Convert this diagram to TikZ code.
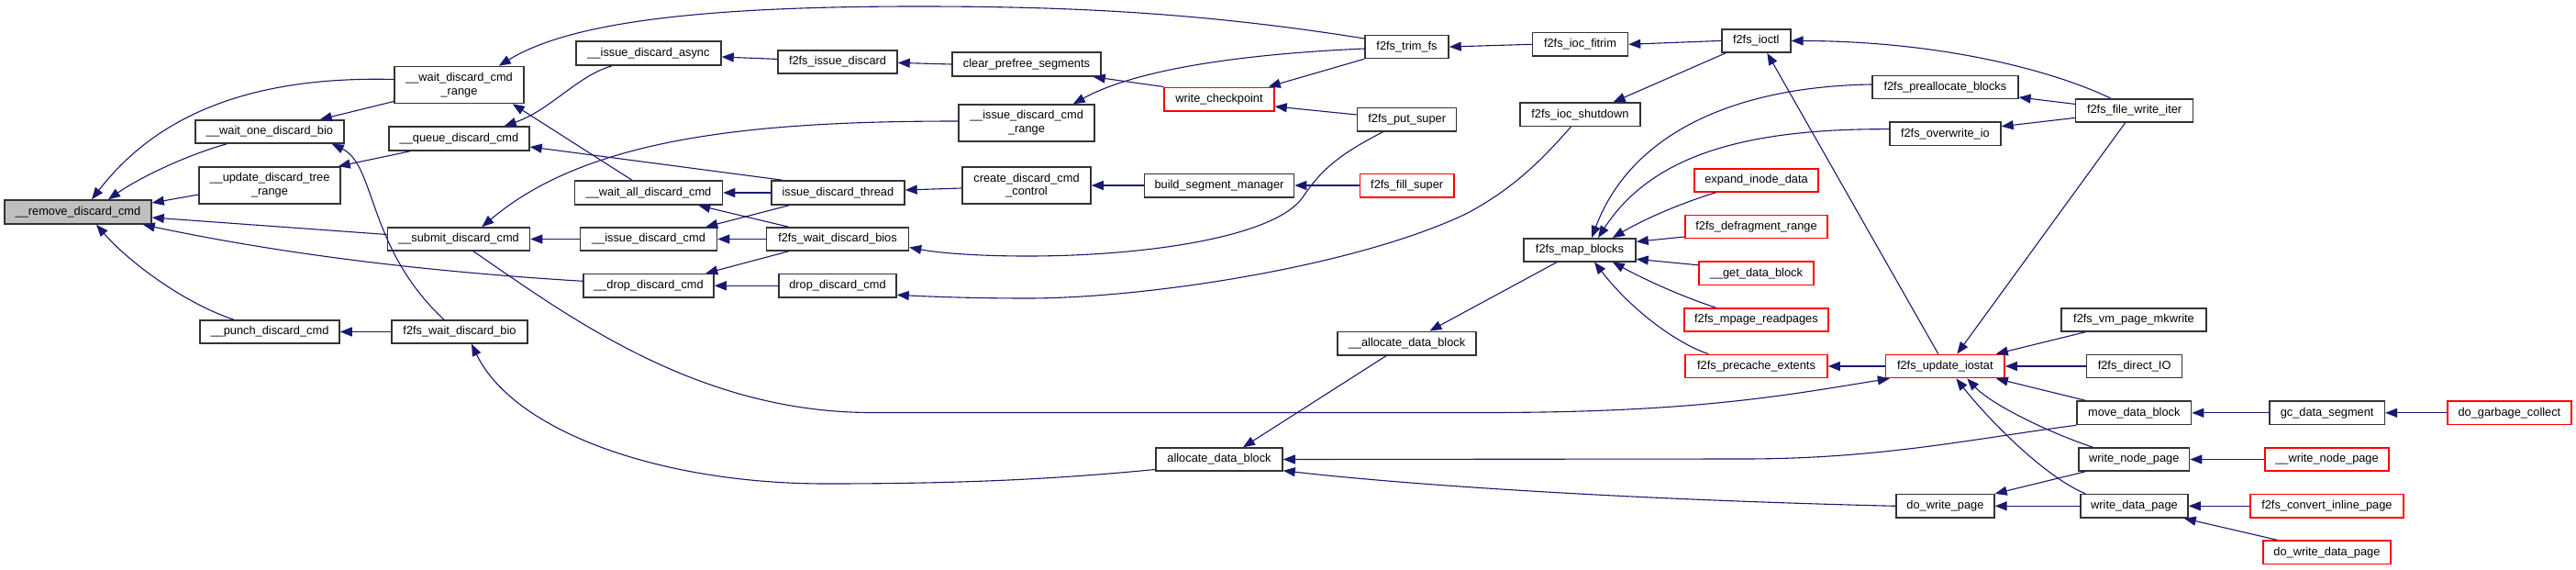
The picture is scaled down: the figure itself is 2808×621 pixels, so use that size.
\documentclass[tikz,border=0pt]{standalone}
\usepackage{fontspec}
\setmainfont{Liberation Sans}
\usetikzlibrary{arrows.meta,calc}
\definecolor{edgec}{RGB}{25,25,112}
\definecolor{rootfill}{RGB}{191,191,191}
\begin{document}
\begin{tikzpicture}[x=1pt,y=-1pt,
 box/.style={draw=black!80, line width=1.5pt, fill=white, inner sep=0pt, align=center, font=\fontsize{12.8}{14.7}\selectfont},
 redbox/.style={box, draw=red},
 rootbox/.style={box, fill=rootfill},
 wh/.style 2 args={minimum width=#1, minimum height=#2},
 edge/.style={draw=edgec, line width=1.1pt, -{Triangle[length=13pt,width=10pt]}},
]
\fill[white] (0,0) rectangle (2808,621);
\useasboundingbox (0,0) rectangle (2808,621);

\node[rootbox, wh={160pt}{26pt}] (remove) at (85,231) {\_\_remove\_discard\_cmd};
\node[box, wh={162pt}{25pt}] (waitone) at (294,143.5) {\_\_wait\_one\_discard\_bio};
\node[box, wh={154pt}{40pt}] (update) at (294,202) {\_\_update\_discard\_tree\\\_range};
\node[box, wh={152pt}{25pt}] (punch) at (294,361.5) {\_\_punch\_discard\_cmd};
\node[box, wh={141pt}{40pt}] (waitrange) at (500.5,92.5) {\_\_wait\_discard\_cmd\\\_range};
\node[box, wh={153pt}{26pt}] (queue) at (500.5,151) {\_\_queue\_discard\_cmd};
\node[box, wh={155pt}{25pt}] (submit) at (500,260.5) {\_\_submit\_discard\_cmd};
\node[box, wh={148pt}{25pt}] (wdbio) at (501,361.5) {f2fs\_wait\_discard\_bio};
\node[box, wh={158pt}{26pt}] (async) at (707,58) {\_\_issue\_discard\_async};
\node[box, wh={130pt}{25pt}] (issuedisc) at (913,67.4) {f2fs\_issue\_discard};
\node[box, wh={162pt}{26pt}] (clearpre) at (1119,70) {clear\_prefree\_segments};
\node[box, wh={148pt}{40pt}] (icmdrange) at (1119,134) {\_\_issue\_discard\_cmd\\\_range};
\node[box, wh={140pt}{40pt}] (createctl) at (1119,202) {create\_discard\_cmd\\\_control};
\node[box, wh={161pt}{26pt}] (waitall) at (707,210) {\_\_wait\_all\_discard\_cmd};
\node[box, wh={145pt}{26pt}] (thread) at (913.4,210) {issue\_discard\_thread};
\node[box, wh={149pt}{25pt}] (issuecmd) at (707,260.5) {\_\_issue\_discard\_cmd};
\node[box, wh={155pt}{25pt}] (bios) at (913,260.5) {f2fs\_wait\_discard\_bios};
\node[box, wh={142pt}{25.5pt}] (dropu) at (707,311.3) {\_\_drop\_discard\_cmd};
\node[box, wh={128pt}{25.5pt}] (drop) at (913,311.3) {drop\_discard\_cmd};
\node[box, wh={91pt}{25pt}] (trimfs) at (1533.5,51) {f2fs\_trim\_fs};
\node[redbox, wh={120pt}{25.5pt}] (checkpoint) at (1329,108) {write\_checkpoint};
\node[box, wh={108pt}{25.5pt}] (putsuper) at (1533.7,130) {f2fs\_put\_super};
\node[box, wh={163pt}{25.5pt}] (buildsm) at (1329,202) {build\_segment\_manager};
\node[redbox, wh={102.5pt}{25.5pt}] (fillsuper) at (1533.7,202) {f2fs\_fill\_super};
\node[box, wh={151pt}{25.5pt}] (allocu) at (1533.5,374) {\_\_allocate\_data\_block};
\node[box, wh={138pt}{25pt}] (alloc) at (1329,500.5) {allocate\_data\_block};
\node[box, wh={104pt}{25.5pt}] (fitrim) at (1722.5,48.3) {f2fs\_ioc\_fitrim};
\node[box, wh={75pt}{25.3pt}] (ioctl) at (1914.3,44.4) {f2fs\_ioctl};
\node[box, wh={131pt}{25.4pt}] (shutdown) at (1722.4,124.7) {f2fs\_ioc\_shutdown};
\node[box, wh={159pt}{25.3pt}] (prealloc) at (2120.4,95) {f2fs\_preallocate\_blocks};
\node[box, wh={121pt}{25.4pt}] (overwrite) at (2120.4,145.7) {f2fs\_overwrite\_io};
\node[redbox, wh={135pt}{25.3pt}] (expand) at (1914.5,196.4) {expand\_inode\_data};
\node[redbox, wh={155pt}{25.4pt}] (defrag) at (1914.5,247) {f2fs\_defragment\_range};
\node[box, wh={122pt}{25pt}] (mapblocks) at (1722,272.3) {f2fs\_map\_blocks};
\node[redbox, wh={125pt}{25.5pt}] (getdata) at (1914.4,297.8) {\_\_get\_data\_block};
\node[redbox, wh={157pt}{25.2pt}] (mpage) at (1914.4,348.4) {f2fs\_mpage\_readpages};
\node[redbox, wh={155pt}{25.3pt}] (precache) at (1914.5,399) {f2fs\_precache\_extents};
\node[redbox, wh={129.5pt}{25.3pt}] (iostat) at (2120.3,399) {f2fs\_update\_iostat};
\node[box, wh={107pt}{25.4pt}] (dowritepage) at (2120.4,551.3) {do\_write\_page};
\node[box, wh={128pt}{25.3pt}] (writeiter) at (2326.6,120.4) {f2fs\_file\_write\_iter};
\node[box, wh={158pt}{25.2pt}] (mkwrite) at (2326,348.4) {f2fs\_vm\_page\_mkwrite};
\node[box, wh={104pt}{25.3pt}] (directio) at (2326.6,399) {f2fs\_direct\_IO};
\node[box, wh={124.5pt}{25.5pt}] (movedb) at (2326.3,449.8) {move\_data\_block};
\node[box, wh={125.6pt}{25.5pt}] (gcdata) at (2536.6,449.8) {gc\_data\_segment};
\node[redbox, wh={135pt}{25.5pt}] (dogc) at (2735.4,449.8) {do\_garbage\_collect};
\node[box, wh={120.5pt}{25pt}] (writenode) at (2326.3,500.5) {write\_node\_page};
\node[redbox, wh={135pt}{25pt}] (wnodeu) at (2536.5,500.5) {\_\_write\_node\_page};
\node[box, wh={117pt}{25.4pt}] (writedata) at (2326.5,551.3) {write\_data\_page};
\node[redbox, wh={167pt}{25.4pt}] (convinline) at (2536.4,551.3) {f2fs\_convert\_inline\_page};
\node[redbox, wh={139pt}{25.6pt}] (dowritedata) at (2536.4,601.8) {do\_write\_data\_page};

% edges into __remove_discard_cmd
\draw[edge] ($(waitrange.west)+(0,-6)$) .. controls (250,82) and (160,140) .. ($(remove.north)+(15,0)$);
\draw[edge] ($(waitone.south west)+(35,0)$) .. controls (200,170) and (150,195) .. ($(remove.north)+(33,0)$);
\draw[edge] ($(update.west)+(0,10)$) -- ($(remove.east)+(0,-10)$);
\draw[edge] ($(submit.west)+(0,-5)$) -- ($(remove.east)+(0,6)$);
\draw[edge] ($(dropu.west)+(0,-5)$) .. controls (450,295) and (300,275) .. ($(remove.south east)+(-10,0)$);
\draw[edge] ($(punch.north)+(-39,0)$) .. controls (200,330) and (140,285) .. ($(remove.south)+(20,0)$);
% second column
\draw[edge] ($(waitrange.west)+(0,18)$) -- ($(waitone.north east)+(-27,0)$);
\draw[edge] ($(wdbio.north)+(-17,0)$) .. controls (400,270) and (410,180) .. ($(waitone.south east)+(-14,0)$);
\draw[edge] ($(queue.south west)+(24,0)$) -- ($(update.north east)+(-3,0)$);
\draw[edge] (wdbio.west) -- (punch.east);
% third column
\draw[edge] ($(trimfs.west)+(0,-9)$) .. controls (1300,12) and (1150,7) .. (1000,7) .. controls (760,7) and (620,25) .. ($(waitrange.north east)+(-28,0)$);
\draw[edge] ($(waitall.north)+(-18,0)$) -- ($(waitrange.south east)+(-13,0)$);
\draw[edge] ($(async.south west)+(40,0)$) .. controls (630,82) and (600,120) .. ($(queue.north east)+(-28,0)$);
\draw[edge] ($(thread.north west)+(13,0)$) -- ($(queue.east)+(0,9)$);
\draw[edge] (issuecmd.west) -- (submit.east);
\draw[edge] ($(icmdrange.west)+(0,-2)$) .. controls (820,132) and (640,150) .. ($(submit.north east)+(-53,0)$);
\draw[edge] ($(thread.south west)+(20,0)$) -- ($(issuecmd.north east)+(-13,0)$);
\draw[edge] (bios.west) -- (issuecmd.east);
\draw[edge] (thread.west) -- (waitall.east);
\draw[edge] ($(bios.north west)+(25,0)$) -- ($(waitall.south east)+(-27,0)$);
\draw[edge] (drop.west) -- (dropu.east);
\draw[edge] ($(bios.south west)+(25,0)$) -- ($(dropu.north east)+(-9.5,0)$);
\draw[edge] ($(alloc.west)+(0,11)$) .. controls (1150,522) and (1050,527) .. (900,527) .. controls (720,527) and (560,470) .. ($(wdbio.south)+(13,0)$);
\draw[edge] ($(submit.south)+(16,0)$) .. controls (620,345) and (760,449.5) .. (950,449.5) -- (1620,449.5) .. controls (1850,449.5) and (1950,430) .. ($(iostat.south west)+(5,0)$);
\draw[edge] ($(putsuper.south west)+(29,0)$) .. controls (1460,168) and (1440,185) .. (1420,215) .. controls (1390,258) and (1250,279) .. (1120,279) .. controls (1060,279) and (1020,275) .. ($(bios.east)+(0,9)$);
% fourth/fifth column
\draw[edge] ($(issuedisc.west)+(0,-3)$) -- ($(async.east)+(0,4)$);
\draw[edge] (clearpre.west) -- ($(issuedisc.east)+(0,1)$);
\draw[edge] (checkpoint.north west) -- ($(clearpre.south east)+(-9,0)$);
\draw[edge] ($(trimfs.west)+(0,2)$) .. controls (1330,60) and (1230,80) .. ($(icmdrange.north east)+(-24,0)$);
\draw[edge] ($(createctl.west)+(0,3)$) -- ($(thread.east)+(0,-3)$);
\draw[edge] (buildsm.west) -- (createctl.east);
\draw[edge] (fillsuper.west) -- (buildsm.east);
\draw[edge] (trimfs.south west) -- ($(checkpoint.north east)+(-7,0)$);
\draw[edge] ($(putsuper.west)+(0,-5)$) -- ($(checkpoint.east)+(0,8)$);
\draw[edge] (fitrim.west) -- (trimfs.east);
\draw[edge] (ioctl.west) -- (fitrim.east);
\draw[edge] ($(ioctl.south west)+(5,0)$) -- ($(shutdown.north east)+(-30,0)$);
\draw[edge] ($(shutdown.south)+(-10,0)$) .. controls (1680,175) and (1650,205) .. (1600,232) .. controls (1480,290) and (1250,325) .. (1120,325) .. controls (1060,325) and (1010,323) .. ($(drop.east)+(0,10)$);
\draw[edge] ($(writeiter.north)+(-26,0)$) .. controls (2240,78) and (2120,45) .. (ioctl.east);
\draw[edge] ($(iostat.north west)+(58,0)$) -- ($(ioctl.south)+(12,0)$);
\draw[edge] ($(writeiter.west)+(0,-7)$) -- ($(prealloc.east)+(0,11)$);
\draw[edge] ($(writeiter.west)+(0,8)$) -- ($(overwrite.east)+(0,-8)$);
\draw[edge] ($(writeiter.south)+(-10,0)$) -- ($(iostat.north)+(13,0)$);
\draw[edge] ($(prealloc.west)+(0,-3)$) .. controls (1900,94) and (1780,140) .. ($(mapblocks.north)+(13,0)$);
\draw[edge] ($(overwrite.west)+(0,-5)$) .. controls (1900,140) and (1800,170) .. ($(mapblocks.north)+(20,0)$);
\draw[edge] ($(expand.south west)+(24,0)$) .. controls (1830,222) and (1790,240) .. ($(mapblocks.north east)+(-26,0)$);
\draw[edge] ($(defrag.west)+(0,11)$) -- ($(mapblocks.east)+(0,-9)$);
\draw[edge] ($(getdata.west)+(0,-9)$) -- ($(mapblocks.east)+(0,10)$);
\draw[edge] ($(mpage.north west)+(35,0)$) .. controls (1830,322) and (1790,303) .. ($(mapblocks.south east)+(-26,0)$);
\draw[edge] ($(precache.north west)+(26,0)$) .. controls (1830,375) and (1780,340) .. ($(mapblocks.south)+(16,0)$);
\draw[edge] ($(mapblocks.south west)+(37,0)$) -- ($(allocu.north)+(25,0)$);
\draw[edge] ($(allocu.south west)+(54,0)$) -- ($(alloc.north)+(26,0)$);
\draw[edge] (movedb.south west) .. controls (2150,478) and (2050,500) .. (1900,500) -- (alloc.east);
\draw[edge] (dowritepage.west) .. controls (1800,545) and (1550,530) .. ($(alloc.south east)+(0,-1)$);
\draw[edge] (iostat.west) -- (precache.east);
\draw[edge] ($(mkwrite.south west)+(27,0)$) -- ($(iostat.north east)+(-10,0)$);
\draw[edge] (directio.west) -- (iostat.east);
\draw[edge] ($(movedb.north west)+(10,0)$) -- ($(iostat.south east)+(-10,0)$);
\draw[edge] ($(writenode.north)+(-45,0)$) .. controls (2230,470) and (2170,440) .. ($(iostat.south)+(24,0)$);
\draw[edge] ($(writedata.north west)+(6,0)$) .. controls (2230,520) and (2170,460) .. ($(iostat.south)+(12,0)$);
\draw[edge] ($(writenode.south west)+(8,0)$) -- (dowritepage.north east);
\draw[edge] (writedata.west) -- (dowritepage.east);
\draw[edge] (gcdata.west) -- (movedb.east);
\draw[edge] (dogc.west) -- (gcdata.east);
\draw[edge] (wnodeu.west) -- (writenode.east);
\draw[edge] (convinline.west) -- (writedata.east);
\draw[edge] ($(dowritedata.north west)+(16,0)$) -- ($(writedata.south east)+(-5,0)$);
\end{tikzpicture}
\end{document}
